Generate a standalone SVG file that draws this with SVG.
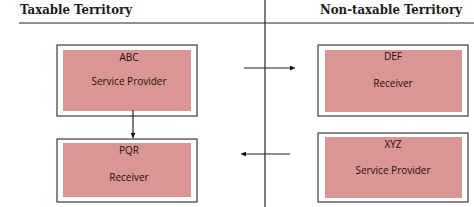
<svg xmlns="http://www.w3.org/2000/svg" width="474" height="207" viewBox="0 0 474 207">
<defs>
<style>
.hdr{font-family:"DejaVu Serif","Liberation Serif",serif;font-weight:bold;font-size:12.5px;fill:#1a1a1a}
.outer{fill:#fff;stroke:#3a3a3a;stroke-width:1.2}
.inner{fill:#d99694;stroke:none}
.lbl{font-family:"Open Sans","Liberation Sans",sans-serif;font-size:10px;fill:#2e0c0c;text-anchor:middle}
.ln{stroke:#222;stroke-width:1.2;fill:none}
</style>
<marker id="ah" viewBox="0 0 10 10" refX="10" refY="5" markerWidth="6" markerHeight="5" orient="auto" markerUnits="userSpaceOnUse">
<path d="M0,0 L10,5 L0,10 z" fill="#111"/>
</marker>
</defs>
<rect width="474" height="207" fill="#fff"/>
<g id="header">
<text class="hdr" x="20" y="14" textLength="112" lengthAdjust="spacingAndGlyphs">Taxable Territory</text>
<text class="hdr" x="320" y="14" textLength="142" lengthAdjust="spacingAndGlyphs">Non-taxable Territory</text>
<line class="ln" x1="19" y1="23" x2="474" y2="23"/>
<line class="ln" x1="265" y1="0" x2="265" y2="207"/>
</g>
<g id="abc">
<rect class="outer" x="57" y="45" width="140" height="71"/>
<rect class="inner" x="63" y="50" width="128" height="61"/>
<text class="lbl" x="129" y="61">ABC</text>
<text class="lbl" x="129" y="85">Service Provider</text>
</g>
<g id="pqr">
<rect class="outer" x="57" y="139" width="140" height="63"/>
<rect class="inner" x="63" y="143" width="128" height="54"/>
<text class="lbl" x="129" y="154">PQR</text>
<text class="lbl" x="129" y="181">Receiver</text>
</g>
<g id="def">
<rect class="outer" x="318" y="45" width="150" height="71"/>
<rect class="inner" x="325" y="50" width="137" height="62"/>
<text class="lbl" x="393" y="60">DEF</text>
<text class="lbl" x="393" y="87">Receiver</text>
</g>
<g id="xyz">
<rect class="outer" x="318" y="133" width="150" height="69"/>
<rect class="inner" x="325" y="137" width="137" height="61"/>
<text class="lbl" x="393" y="148">XYZ</text>
<text class="lbl" x="393" y="174">Service Provider</text>
</g>
<g id="connectors">
<line class="ln" x1="133" y1="110" x2="133" y2="138" marker-end="url(#ah)"/>
<line class="ln" x1="244" y1="68" x2="295" y2="68" marker-end="url(#ah)"/>
<line class="ln" x1="290" y1="154" x2="241" y2="154" marker-end="url(#ah)"/>
</g>
</svg>
